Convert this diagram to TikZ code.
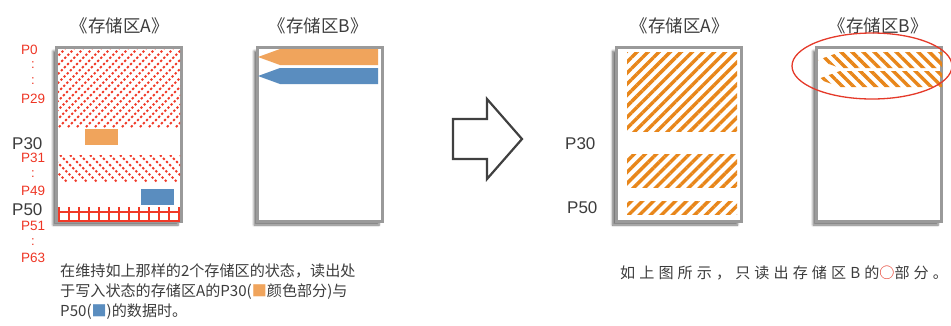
\documentclass[tikz,border=0pt]{standalone}
\usepackage{fontspec}
\setmainfont{Noto Sans CJK SC}
\newfontfamily\latinsf{Liberation Sans}
\usetikzlibrary{patterns.meta,shadows.blur}
\definecolor{boxgray}{HTML}{9A9A9A}
\definecolor{txtgray}{HTML}{3C3C3C}
\definecolor{lblred}{HTML}{EE3524}
\definecolor{hatchred}{HTML}{F03A28}
\definecolor{fillorange}{HTML}{F0A45C}
\definecolor{fillblue}{HTML}{5A8DBF}
\definecolor{hatchorange}{HTML}{E8861A}
\definecolor{arrowgray}{HTML}{404040}
\definecolor{ringred}{HTML}{E53A2A}
\begin{document}
\begin{tikzpicture}[x=1pt,y=-1pt,
  memb/.style={draw=boxgray,line width=3pt,fill=white,inner sep=0pt,
    minimum width=125pt,minimum height=174pt,
    blur shadow={shadow xshift=-3.5pt,shadow yshift=-3.5pt,shadow blur steps=6,shadow opacity=55}},
  ttl/.style={text=txtgray,font=\fontsize{17.5}{20}\selectfont,inner sep=0pt},
  rlbl/.style={text=lblred,font=\latinsf\fontsize{13.5}{15}\selectfont,inner sep=0pt,anchor=west},
  rdots/.style={text=lblred,font=\latinsf\fontsize{13}{14}\selectfont,inner sep=0pt},
  glbl/.style={text=txtgray,font=\latinsf\fontsize{17}{20}\selectfont,inner sep=0pt,anchor=west},
  body/.style={text=txtgray,font=\fontsize{15.1}{18}\selectfont,inner sep=0pt,anchor=west},
  reddot/.style={draw=hatchred,line width=1.9pt,dash pattern=on 2.2pt off 2.2pt},
  orhatch/.style={pattern={Lines[angle=45,distance=7.8pt,line width=3.4pt]},pattern color=hatchorange},
  orhatchb/.style={pattern={Lines[angle=-45,distance=7.8pt,line width=3.4pt]},pattern color=hatchorange},
  fence/.style={draw=hatchred,line width=2pt}
]
\path[use as bounding box,clip] (0,0) rectangle (951,325);

% ---------- left: storage A ----------
\node[ttl] (tA) at (120,26) {《存储区A》};
\node[memb] (boxA) at (119,134.5) {};
\begin{scope}
  \clip (58,49) rectangle (180,127);
  \foreach \a in {-40,-31,...,200} \draw[reddot] (\a,127) -- (\a+78,49);
\end{scope}
\begin{scope}
  \clip (58,155) rectangle (180,182);
  \foreach \a in {-40,-30,...,230} \draw[reddot] (\a,155) -- (\a+27,182);
\end{scope}
\fill[fillorange] (85,129) rectangle (118,145);
\fill[fillblue] (141,189) rectangle (174,205);
\draw[fence] (58,212) -- (180,212);
\draw[fence] (58,220.5) -- (180,220.5);
\foreach \a in {59,69,...,179} \draw[fence] (\a,207) -- (\a,221);

\node[rlbl] (p0) at (21,49.5) {P0};
\node[rdots] (d1) at (33,65) {:};
\node[rdots] (d2) at (33,81) {:};
\node[rlbl] (p29) at (21,99) {P29};
\node[glbl] (p30a) at (12,143.5) {P30};
\node[rlbl] (p31) at (21,158) {P31};
\node[rdots] (d3) at (33,174) {:};
\node[rlbl] (p49) at (21,191) {P49};
\node[glbl] (p50a) at (12,209.5) {P50};
\node[rlbl] (p51) at (21,226) {P51};
\node[rdots] (d4) at (33,242) {:};
\node[rlbl] (p63) at (21,258) {P63};

% ---------- left: storage B ----------
\node[ttl] (tB) at (318,26) {《存储区B》};
\node[memb] (boxB) at (320,134.5) {};
\fill[fillorange] (258,57) -- (280,49) -- (378,49) -- (378,65) -- (280,65) -- cycle;
\fill[fillblue] (258,76) -- (280,68) -- (378,68) -- (378,84) -- (280,84) -- cycle;

% ---------- text ----------
\node[body] (la1) at (60,271) {在维持如上那样的2个存储区的状态，读出处};
\node[body] (la2) at (60,291.5) {于写入状态的存储区A的P30(\textcolor{fillorange}{■}颜色部分)与};
\node[body] (la3) at (60,312) {P50(\textcolor{fillblue}{■})的数据时。};

% ---------- big arrow ----------
\draw[draw=arrowgray,line width=2.2pt,line join=miter]
  (453,119) -- (487,119) -- (487,99) -- (522,139) -- (487,179) -- (487,159) -- (453,159) -- cycle;

% ---------- right: storage A ----------
\node[ttl] (tA2) at (680,26) {《存储区A》};
\node[memb] (boxA2) at (678.5,134.5) {};
\path[orhatch] (627,52) rectangle (737,131);
\path[orhatch] (627,154) rectangle (737,187);
\path[orhatch] (627,201) rectangle (737,214);
\node[glbl] (p30b) at (565,144) {P30};
\node[glbl] (p50b) at (567,208) {P50};

% ---------- right: storage B ----------
\node[ttl] (tB2) at (878,26) {《存储区B》};
\node[memb] (boxB2) at (879,134.5) {};
\path[orhatchb] (818,60) -- (840,52) -- (942,52) -- (942,68) -- (840,68) -- cycle;
\path[orhatchb] (818,79) -- (840,71) -- (942,71) -- (942,87) -- (840,87) -- cycle;
\draw[ringred,line width=1.3pt] (872,66) ellipse (80 and 33);

\node[body,font=\fontsize{15.1}{18}\selectfont\addfontfeatures{LetterSpace=27}] (lb) at (620,273)
  {如上图所示，只读出存储区B的\textcolor{ringred}{○}部分。};
\end{tikzpicture}
\end{document}
